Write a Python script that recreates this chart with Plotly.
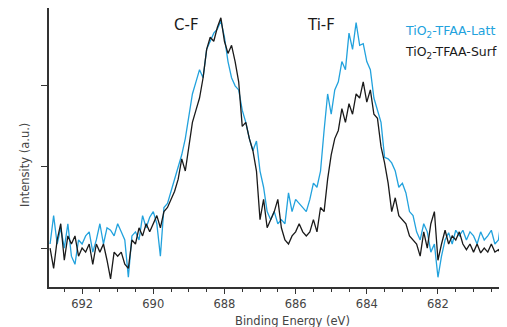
import plotly.graph_objects as go

# Binding energy grid (eV), descending 692.9 -> 680.1 in 0.1 eV steps
energy = [round(692.9 - 0.1 * i, 1) for i in range(129)]

latt = [0.05, 0.40, 0.05, 0.25, 0.00, 0.30, -0.10, -0.20, 0.10, 0.05,
        0.15, 0.20, -0.05, 0.10, 0.30, 0.05, 0.25, 0.22, 0.15, 0.30,
        0.20, 0.10, -0.36, 0.15, 0.20, 0.10, 0.40, 0.25, 0.38, 0.45,
        0.30, -0.10, 0.50, 0.55, 0.70, 0.85, 1.00, 1.15, 1.35, 1.60,
        1.90, 2.05, 2.20, 2.10, 2.45, 2.55, 2.65, 2.70, 2.80, 2.60,
        2.30, 2.10, 2.00, 1.95, 1.70, 1.55, 1.35, 1.20, 1.32, 0.95,
        0.75, 0.45, 0.35, 0.45, 0.30, 0.35, 0.30, 0.68, 0.45, 0.60,
        0.55, 0.50, 0.45, 0.60, 0.80, 0.75, 0.95, 1.45, 1.90, 1.65,
        1.95, 2.05, 2.30, 2.20, 2.65, 2.45, 2.78, 2.50, 2.52, 2.30,
        2.20, 1.85, 1.70, 1.55, 1.12, 1.10, 1.05, 0.95, 0.75, 0.80,
        0.68, 0.45, 0.40, 0.20, 0.10, 0.30, 0.20, -0.05, 0.05, -0.36,
        -0.10, 0.10, 0.19, 0.05, 0.22, 0.15, 0.22, 0.10, 0.20, 0.15,
        0.05, 0.20, 0.10, 0.15, 0.22, 0.05, 0.10, 0.43, 0.05]

surf = [0.00, -0.25, 0.10, 0.30, -0.15, 0.15, 0.05, 0.15, -0.10, 0.00,
        -0.05, 0.05, -0.20, 0.05, -0.05, 0.05, -0.15, -0.38, -0.05, -0.10,
        -0.05, -0.20, -0.25, 0.10, 0.05, 0.25, 0.15, 0.30, 0.20, 0.30,
        0.40, 0.25, 0.45, 0.50, 0.60, 0.70, 0.85, 1.10, 0.95, 1.25,
        1.55, 1.70, 1.85, 2.10, 2.45, 2.60, 2.55, 2.72, 2.84, 2.55,
        2.40, 2.50, 2.30, 2.05, 1.50, 1.55, 1.35, 1.20, 0.95, 0.35,
        0.60, 0.25, 0.35, 0.45, 0.60, 0.25, 0.10, 0.05, 0.15, 0.20,
        0.30, 0.20, 0.15, 0.20, 0.35, 0.20, 0.50, 0.45, 0.85, 1.15,
        1.35, 1.45, 1.72, 1.55, 1.78, 1.65, 1.90, 1.85, 2.05, 1.80,
        1.95, 1.65, 1.60, 1.25, 1.05, 0.80, 0.45, 0.62, 0.40, 0.35,
        0.30, 0.15, 0.10, 0.05, -0.10, 0.20, 0.00, 0.30, 0.45, -0.15,
        0.05, 0.22, 0.05, 0.15, 0.10, 0.20, 0.05, -0.02, 0.05, -0.05,
        0.05, -0.06, 0.00, -0.05, 0.05, -0.05, -0.02, -0.10, 0.00]

x_ticks = [692, 690, 688, 686, 684, 682]
x_tick_labels = ["692", "690", "688", "686", "684", "682"]
y_ticks = [0, 1, 2]

BLUE = "#22a2dd"
BLACK = "#1a1a1a"
FONT = "DejaVu Sans"

# page offset (browser body margin) of 8 px is compensated below
W, H = 499, 319
L, T, B = 41, 0, 40
PW, PH = W - L, H - T - B


def px(xp):
    return (xp - 8 - L) / PW


def py(yp):
    return (H - B - (yp - 8)) / PH


fig = go.Figure()
fig.add_trace(go.Scatter(x=energy, y=latt, mode="lines",
                         line=dict(color=BLUE, width=1.3), name="TiO2-TFAA-Latt"))
fig.add_trace(go.Scatter(x=energy, y=surf, mode="lines",
                         line=dict(color=BLACK, width=1.3), name="TiO2-TFAA-Surf"))

fig.update_layout(
    width=W, height=H,
    margin=dict(l=L, r=0, t=T, b=B, pad=0),
    paper_bgcolor="white", plot_bgcolor="white",
    showlegend=False,
    font=dict(family=FONT, color="#333333"),
    xaxis=dict(range=[692.93, 680.06], tickvals=x_ticks, ticktext=x_tick_labels,
               ticks="outside", ticklen=5, tickwidth=1, tickcolor="#333333",
               showline=True, linecolor="#333333", linewidth=1.5,
               showgrid=False, zeroline=False,
               tickfont=dict(size=11.5, color="#444444", family=FONT),
               minor=dict(dtick=0.5, ticks="outside", ticklen=3, tickcolor="#333333"),
               ),
    yaxis=dict(range=[-0.48, 2.96], tickvals=y_ticks, showticklabels=False,
               ticks="outside", ticklen=6, tickwidth=1, tickcolor="#333333",
               showline=True, linecolor="#333333", linewidth=1.5,
               showgrid=False, zeroline=False),
)

fig.add_annotation(text="Binding Energy (eV)", xref="paper", yref="paper",
                   x=px(292), y=py(321), showarrow=False,
                   font=dict(size=11.5, color="#444444", family=FONT),
                   xanchor="center", yanchor="middle")
fig.add_annotation(text="Intensity (a.u.)", xref="paper", yref="paper",
                   x=px(25), y=py(165), showarrow=False,
                   textangle=-90, font=dict(size=11.5, color="#444444", family=FONT),
                   xanchor="center", yanchor="middle")
fig.add_annotation(text="C-F", xref="paper", yref="paper",
                   x=px(186), y=py(25), showarrow=False,
                   font=dict(size=15, color=BLACK, family=FONT),
                   xanchor="center", yanchor="middle")
fig.add_annotation(text="Ti-F", xref="paper", yref="paper",
                   x=px(321), y=py(25), showarrow=False,
                   font=dict(size=15, color=BLACK, family=FONT),
                   xanchor="center", yanchor="middle")
fig.add_annotation(text="TiO<sub>2</sub>-TFAA-Latt", xref="paper", yref="paper",
                   x=px(403), y=py(31), showarrow=False,
                   font=dict(size=12.5, color=BLUE, family=FONT),
                   xanchor="left", yanchor="middle")
fig.add_annotation(text="TiO<sub>2</sub>-TFAA-Surf", xref="paper", yref="paper",
                   x=px(403), y=py(53), showarrow=False,
                   font=dict(size=12.5, color=BLACK, family=FONT),
                   xanchor="left", yanchor="middle")

fig.write_html("out.html")
